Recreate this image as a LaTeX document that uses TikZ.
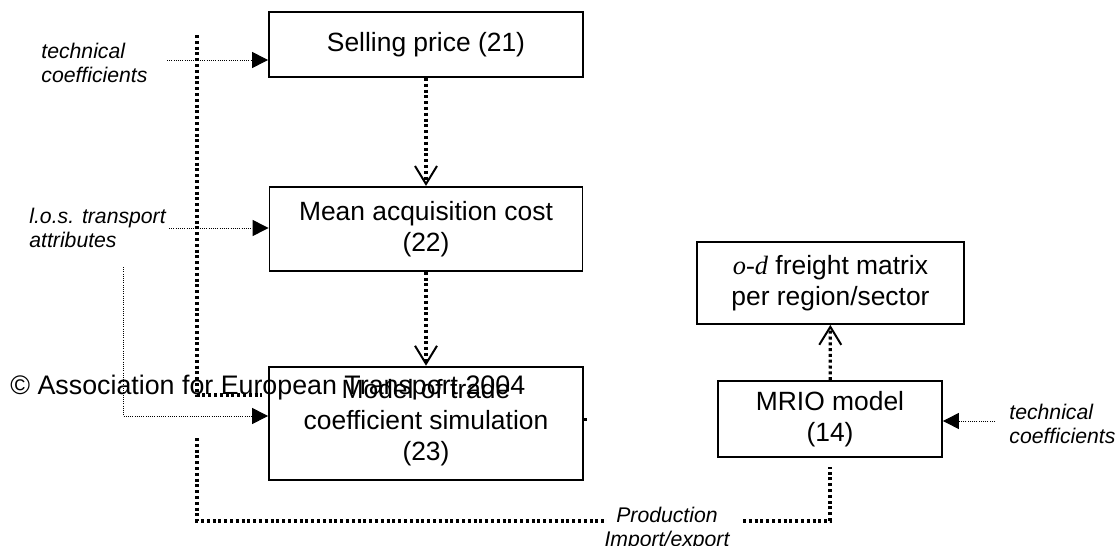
\documentclass[tikz,border=0pt]{standalone}
\usepackage{fontspec}
\setmainfont{Liberation Sans}
\newfontfamily\timesfont{Liberation Serif}
\usetikzlibrary{arrows.meta, positioning}

\begin{document}
\begin{tikzpicture}[x=0.5pt, y=-0.5pt,
            block/.style={draw, line width=0.9pt, align=center, inner sep=0pt,
                font=\fontsize{13.2}{15.5}\selectfont},
            note/.style={align=left, inner sep=0pt, font=\fontsize{10.6}{12.2}\selectfont\itshape},
            flow/.style={line width=1.6pt, dash pattern=on 1.5pt off 1.4pt},
            feed/.style={line width=0.5pt, dash pattern=on 0.5pt off 0.6pt},
            open tip/.style={-{Straight Barb[length=9pt,width=11pt,line width=1pt]}},
            fill tip/.style={-{Triangle[length=8pt,width=8pt]}}]

            \useasboundingbox (0,0) rectangle (1120,546);

            \node[block, minimum width=157pt, minimum height=32.5pt] (Price) at (426,44.5) {Selling price (21)};
            \node[block, minimum width=156.5pt, minimum height=42pt, below=54pt of Price] (Mean) {Mean acquisition cost\\(22)};
            \node[block, minimum width=157pt, minimum height=56.5pt, below=47pt of Mean] (Model) {Model of trade\\coefficient simulation\\(23)};
            \node[block, minimum width=133.5pt, minimum height=41pt] (OD) at (830.5,283) {{\timesfont\itshape o-d} freight matrix\\per region/sector};
            \node[block, minimum width=112pt, minimum height=38pt] (MRIO) at (830,419) {MRIO model\\(14)};

            \node[note, anchor=west] (tcleft) at (41,63) {technical\\coefficients};
            \node[note, anchor=west] (los) at (29,228) {l.o.s. transport\\attributes};
            \node[note, anchor=west] (tcright) at (1009,424) {technical\\coefficients};
            \node[note, align=center] (prod) at (667,529) {Production\\Import/export};
            \node[anchor=base west, inner sep=0pt, font=\fontsize{13.4}{15}\selectfont] (copy) at (10,394) {© Association for European Transport 2004};

            \coordinate (tcleftend) at (167,60);
            \coordinate (losend) at (169,228);
            \coordinate (lostop) at (123,267);
            \coordinate (tcrightend) at (995,421);
            \coordinate (backtop) at (197,35);
            \coordinate (backend) at (262,395);
            \coordinate (feedtop) at (197,438);
            \coordinate (prodleft) at (605,521);
            \coordinate (prodright) at (743,521);

            \draw[flow, open tip] (Price) -- (Mean);
            \draw[flow, open tip] (Mean) -- (Model);
            \draw[flow, open tip] (MRIO) -- (OD);

            \draw[feed, fill tip] (tcleftend) -- (tcleftend -| Price.west);
            \draw[feed, fill tip] (losend) -- (losend -| Mean.west);
            \draw[feed, fill tip] (lostop) |- (Model.west |- 0,416);
            \draw[feed, fill tip] (tcrightend) -- (tcrightend -| MRIO.east);

            \draw[flow] (backtop) |- (backend);
            \draw[flow] (feedtop) |- (prodleft);
            \draw[flow, shorten >=4.5pt] (prodright) -| (MRIO.south);
            \fill (583.5,417.5) rectangle ++(3,3);

        \end{tikzpicture}
\end{document}
